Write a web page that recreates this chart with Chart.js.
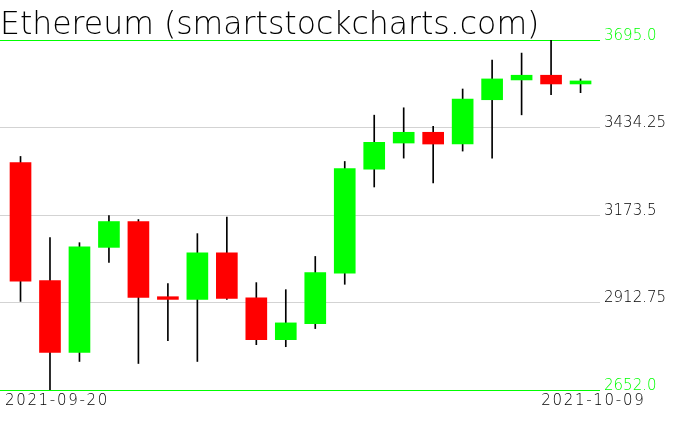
<!DOCTYPE html>
<html><head><meta charset="utf-8">
<script src="https://cdn.jsdelivr.net/npm/chart.js@4/dist/chart.umd.min.js"></script>
<style>html,body{margin:0;padding:0;background:#fff;overflow:hidden}</style>
</head><body>
<canvas id="c" width="676" height="431"></canvas>
<script>
const chartTitle = 'Ethereum (smartstockcharts.com)';
const dates = ['2021-09-20','2021-09-21','2021-09-22','2021-09-23','2021-09-24','2021-09-25','2021-09-26','2021-09-27','2021-09-28','2021-09-29','2021-09-30','2021-10-01','2021-10-02','2021-10-03','2021-10-04','2021-10-05','2021-10-06','2021-10-07','2021-10-08','2021-10-09'];
const openP  = [3330, 2978, 2764, 3077, 3154, 2930, 2922, 3061, 2927, 2802, 2850, 3000, 3310, 3388, 3420, 3385, 3517, 3576, 3590, 3564];
const highP  = [3348, 3106, 3091, 3172, 3160, 2969, 3118, 3167, 2972, 2951, 3050, 3333, 3471, 3493, 3438, 3549, 3635, 3656, 3695, 3579];
const lowP   = [2916, 2652, 2737, 3032, 2731, 2799, 2737, 2922, 2787, 2781, 2835, 2967, 3257, 3343, 3269, 3364, 3343, 3472, 3532, 3538];
const closeP = [2976, 2764, 3079, 3154, 2928, 2922, 3061, 2925, 2802, 2852, 3002, 3312, 3390, 3420, 3385, 3519, 3579, 3590, 3564, 3573];
const yTickValues = [2652, 2912.75, 3173.5, 3434.25, 3695];
const yTickLabels = ['2652.0', '2912.75', '3173.5', '3434.25', '3695.0'];
const xTickLabels = [dates[0], dates[dates.length - 1]];

const GREEN = '#00ff00', RED = '#ff0000', GRID = '#d3d3d3';

const bodies = dates.map((d, i) => ({x: i, y: [openP[i], closeP[i]]}));
const wicks = dates.map((d, i) => ({x: i, y: [lowP[i], highP[i]]}));
const bodyColors = dates.map((d, i) => closeP[i] >= openP[i] ? GREEN : RED);

const X_MIN = -0.696, X_MAX = 19.66;

const spacingPlugin = {
  id: 'xLabelSpacing',
  afterDatasetsDraw(chart) { chart.ctx.letterSpacing = '1.7px'; },
  afterDraw(chart) { chart.ctx.letterSpacing = '0px'; }
};

new Chart(document.getElementById('c'), {
  type: 'bar',
  data: {
    datasets: [
      {label: 'body', data: bodies, backgroundColor: bodyColors, barThickness: 21, grouped: false, borderWidth: 0},
      {label: 'wick', data: wicks, backgroundColor: '#000000', barThickness: 1, grouped: false, borderWidth: 0}
    ]
  },
  options: {
    responsive: false,
    devicePixelRatio: 1,
    animation: false,
    layout: {padding: 0},
    plugins: {
      legend: {display: false},
      tooltip: {enabled: false},
      title: {
        display: true, text: chartTitle, align: 'start', color: '#000',
        font: {family: 'DejaVu Sans', size: 31.5, weight: 200, lineHeight: 1},
        padding: {top: 10, bottom: -1.5}
      }
    },
    scales: {
      x: {
        type: 'linear', min: X_MIN, max: X_MAX, offset: false, bounds: 'data',
        grid: {display: false, drawTicks: false, offset: false},
        border: {display: false},
        afterBuildTicks: s => { s.ticks = [{value: -0.53}, {value: 21.2}]; },
        afterDataLimits: s => { s.min = X_MIN; s.max = X_MAX; },
        afterFit: s => { s.height = 41; },
        ticks: {
          z: 1, align: 'inner', maxRotation: 0, autoSkip: false, padding: 2,
          color: '#000', font: {family: 'DejaVu Sans', size: 15, weight: 200},
          callback: (v, i) => xTickLabels[i]
        }
      },
      y: {
        position: 'right', min: 2652, max: 3695,
        afterBuildTicks: s => { s.ticks = yTickValues.map(v => ({value: v})); },
        afterFit: s => { s.width = 76; },
        grid: {
          drawTicks: false, lineWidth: 1,
          color: ctx => (ctx.index === 0 || ctx.index === yTickValues.length - 1) ? GREEN : GRID
        },
        border: {display: false},
        ticks: {
          padding: 4, labelOffset: -4, crossAlign: 'near',
          font: {family: 'DejaVu Sans', size: 15, weight: 200},
          color: ctx => (ctx.index === 0 || ctx.index === yTickValues.length - 1) ? GREEN : '#000',
          callback: (v, i) => yTickLabels[i]
        }
      }
    }
  },
  plugins: [spacingPlugin]
});
</script>
</body></html>
